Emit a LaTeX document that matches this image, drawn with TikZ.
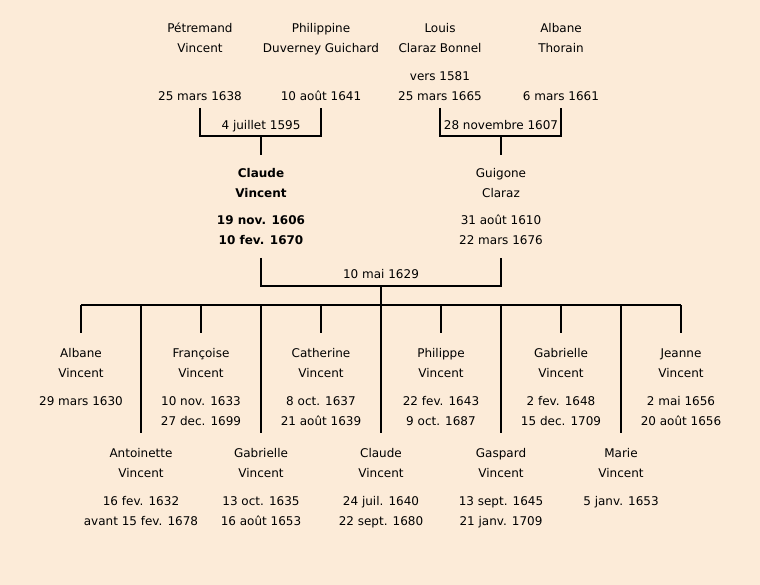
\documentclass[tikz,border=0pt]{standalone}
\usepackage{fontspec}
\setmainfont{DejaVu Sans}
\definecolor{parchment}{RGB}{252,235,216}

\begin{document}
\begin{tikzpicture}[
    x=1pt, y=1pt,
    % Define styles
    person/.style={align=center, anchor=north, inner sep=0pt, font=\fontsize{12}{20}\selectfont},
    main/.style={person, font=\fontsize{12}{20}\selectfont\bfseries},
    wedding/.style={anchor=base, inner sep=0pt, font=\fontsize{12}{14}\selectfont},
    link/.style={line width=2pt}
]

% Background
\fill[parchment] (0,0) rectangle (760,-585);
\useasboundingbox (0,0) rectangle (760,-585);

% Grandparents
\node[person] (petremand) at (200,-23) {P\'etremand\\Vincent\\[28pt]25 mars 1638};
\node[person] (philippine) at (321,-23) {Philippine\\Duverney Guichard\\[28pt]10 ao\^ut 1641};
\node[person] (louis) at (440,-23) {Louis\\Claraz Bonnel\\[8pt]vers 1581\\25 mars 1665};
\node[person] (albane_thorain) at (561,-23) {Albane\\Thorain\\[28pt]6 mars 1661};

\node[wedding] (wedding_vincent) at (261,-130) {4 juillet 1595};
\node[wedding] (wedding_claraz) at (501,-130) {28 novembre 1607};

% Parents
\node[main] (claude) at (261,-168) {Claude\\Vincent\\[7pt]19 nov. 1606\\10 fev. 1670};
\node[person] (guigone) at (501,-168) {Guigone\\Claraz\\[7pt]31 ao\^ut 1610\\22 mars 1676};

\node[wedding] (wedding_main) at (381,-279) {10 mai 1629};

% Children - upper row
\node[person] (kid_albane) at (81,-348) {Albane\\Vincent\\[8pt]29 mars 1630};
\node[person] (kid_francoise) at (201,-348) {Fran\c{c}oise\\Vincent\\[8pt]10 nov. 1633\\27 dec. 1699};
\node[person] (kid_catherine) at (321,-348) {Catherine\\Vincent\\[8pt]8 oct. 1637\\21 ao\^ut 1639};
\node[person] (kid_philippe) at (441,-348) {Philippe\\Vincent\\[8pt]22 fev. 1643\\9 oct. 1687};
\node[person] (kid_gabrielle_b) at (561,-348) {Gabrielle\\Vincent\\[8pt]2 fev. 1648\\15 dec. 1709};
\node[person] (kid_jeanne) at (681,-348.8) {Jeanne\\Vincent\\[8pt]2 mai 1656\\20 ao\^ut 1656};

% Children - lower row
\node[person] (kid_antoinette) at (141,-448) {Antoinette\\Vincent\\[8pt]16 fev. 1632\\avant 15 fev. 1678};
\node[person] (kid_gabrielle_a) at (261,-448) {Gabrielle\\Vincent\\[8pt]13 oct. 1635\\16 ao\^ut 1653};
\node[person] (kid_claude) at (381,-448) {Claude\\Vincent\\[8pt]24 juil. 1640\\22 sept. 1680};
\node[person] (kid_gaspard) at (501,-448) {Gaspard\\Vincent\\[8pt]13 sept. 1645\\21 janv. 1709};
\node[person] (kid_marie) at (621,-448) {Marie\\Vincent\\[8pt]5 janv. 1653};

% Row levels for the connectors
\coordinate (gen1_foot) at (0,-108);
\coordinate (gen2_head) at (0,-155);
\coordinate (gen2_foot) at (0,-258);
\coordinate (row1_head) at (0,-333);
\coordinate (row2_head) at (0,-433);

% Marriages
\coordinate (m_vincent) at (261,-136);
\coordinate (m_claraz) at (501,-136);
\coordinate (m_main) at (381,-286);
\coordinate (kids) at (381,-305);

\draw[link] (petremand |- gen1_foot) |- (m_vincent) -| (philippine |- gen1_foot);
\draw[link] (louis |- gen1_foot) |- (m_claraz) -| (albane_thorain |- gen1_foot);
\draw[link] (m_vincent) -- (claude |- gen2_head);
\draw[link] (m_claraz) -- (guigone |- gen2_head);

\draw[link] (claude |- gen2_foot) |- (m_main) -| (guigone |- gen2_foot);
\draw[link] (m_main) -- (kids);
\draw[link] (kid_albane |- kids) -- (kid_jeanne |- kids);

\foreach \k in {kid_albane, kid_francoise, kid_catherine, kid_philippe, kid_gabrielle_b, kid_jeanne}
    \draw[link] (\k |- kids) -- (\k |- row1_head);
\foreach \k in {kid_antoinette, kid_gabrielle_a, kid_claude, kid_gaspard, kid_marie}
    \draw[link] (\k |- kids) -- (\k |- row2_head);

\end{tikzpicture}
\end{document}
